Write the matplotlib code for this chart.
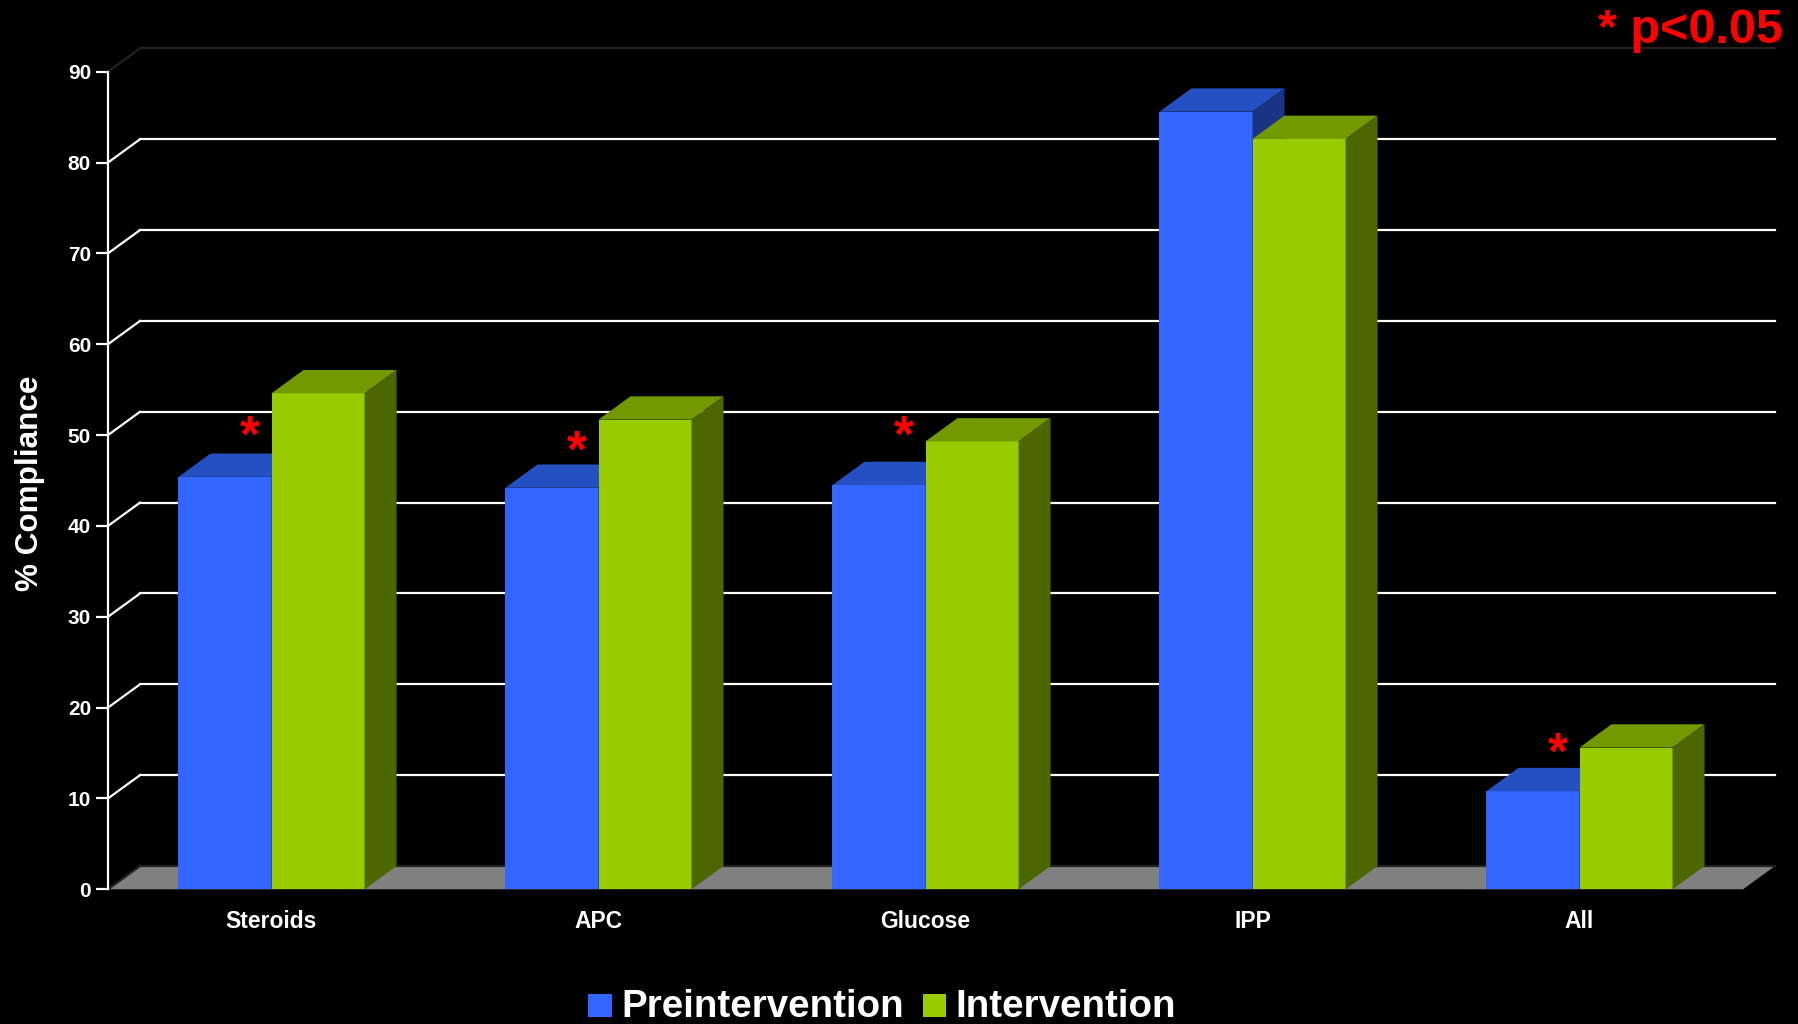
import matplotlib.pyplot as plt
from matplotlib.patches import Polygon, Rectangle

categories = ['Steroids', 'APC', 'Glucose', 'IPP', 'All']
preintervention = [45.4, 44.2, 44.5, 85.6, 10.8]
intervention = [54.6, 51.7, 49.3, 82.6, 15.6]
# height of the significance asterisk, None = not significant
star_level = [50.8, 49.1, 50.8, None, 15.9]
yticks = list(range(0, 100, 10))

plt.rcParams['font.family'] = 'Liberation Sans'
plt.rcParams['font.weight'] = 'bold'

W, H = 1798, 1024
fig = plt.figure(figsize=(W / 100, H / 100), dpi=100, facecolor='black')
ax = fig.add_axes([108 / W, 134.7 / H, 1635 / W, 817.6 / H])
ax.set_facecolor('black')
ax.set_xlim(-0.5, 4.5)
ax.set_ylim(0, 90)

# depth offset of the fake 3d walls and columns, in data units
dx = 32 * 5 / 1635
dy = 23.3 * 90 / 817.6

# floor
ax.add_patch(Polygon([(-0.5, 0), (4.5, 0), (4.5 + dx, dy), (-0.5 + dx, dy)],
                     closed=True, facecolor='#808080', edgecolor='none',
                     clip_on=False, zorder=1))

# back wall gridlines and side wall diagonals
for v in yticks:
    col = 'white' if 0 < v < 90 else '#222222'
    ax.plot([-0.5 + dx, 4.5 + dx], [v + dy, v + dy], color=col, lw=1.6,
            clip_on=False, zorder=2)
    ax.plot([-0.5, -0.5 + dx], [v, v + dy], color=col, lw=1.6,
            clip_on=False, zorder=2)

w = 0.2845
blue = ('#3366ff', '#2550c2', '#1a3384')
green = ('#99cc00', '#729900', '#4c6600')

for i in range(len(categories)):
    for k, (x0, v, cols) in enumerate([(i - w, preintervention[i], blue),
                                       (i, intervention[i], green)]):
        z = 3 + k
        ax.bar(x0, v, width=w, align='edge', color=cols[0], linewidth=0, zorder=z)
        x1 = x0 + w
        ax.add_patch(Polygon([(x0, v), (x0 + dx, v + dy), (x1 + dx, v + dy), (x1, v)],
                             closed=True, facecolor=cols[1], edgecolor='none',
                             clip_on=False, zorder=z))
        ax.add_patch(Polygon([(x1, 0), (x1 + dx, dy), (x1 + dx, v + dy), (x1, v)],
                             closed=True, facecolor=cols[2], edgecolor='none',
                             clip_on=False, zorder=z))
    if star_level[i] is not None:
        ax.annotate('*', xy=(i - 0.067, star_level[i]), xytext=(0, -17),
                    textcoords='offset points', ha='center', va='baseline',
                    fontsize=37, color='red', zorder=6)

for s in ['top', 'right', 'bottom']:
    ax.spines[s].set_visible(False)
ax.spines['left'].set_color('white')
ax.spines['left'].set_linewidth(1.6)

ax.set_yticks(yticks)
ax.tick_params(axis='y', colors='white', labelsize=15, length=8.6, width=1.6, pad=3.6)
ax.set_xticks(range(len(categories)))
ax.set_xticklabels(categories)
ax.tick_params(axis='x', colors='white', labelsize=16.5, length=0, pad=15)

fig.text(30 / W, 1 - 483 / H, '% Compliance', rotation=90, ha='center', va='center',
         fontsize=22.7, color='white')
fig.text(1783 / W, 1 - 43 / H, '* p<0.05', ha='right', va='baseline',
         fontsize=35, color='red')

# legend
for x, col, label in [(588, blue[0], 'Preintervention'), (922.8, green[0], 'Intervention')]:
    fig.patches.append(Rectangle((x / W, 1 - 1017 / H), 23.6 / W, 23 / H,
                                 transform=fig.transFigure, facecolor=col,
                                 edgecolor='none'))
    fig.text((x + 33) / W, 1 - 1017 / H, label, ha='left', va='baseline',
             fontsize=27.7, color='white')

fig.savefig('out.png', dpi=100, facecolor='black')
